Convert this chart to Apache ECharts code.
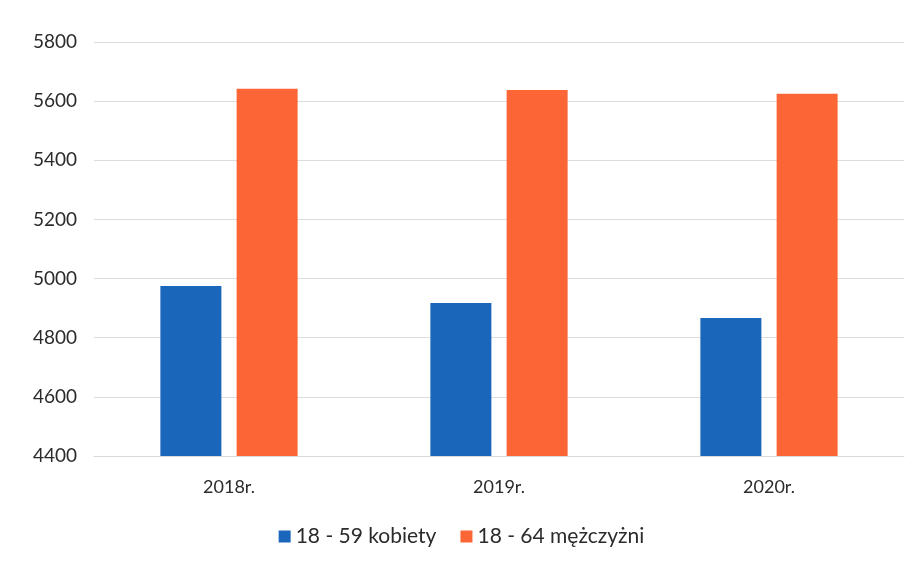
<!DOCTYPE html>
<html><head><meta charset="utf-8">
<script src="https://cdn.jsdelivr.net/npm/echarts@6/dist/echarts.min.js"></script>
<style>html,body{margin:0;padding:0;background:#fff}#c{width:923px;height:574px}</style>
</head><body><div id="c"></div>
<script>
const categories = ['2018r.', '2019r.', '2020r.'];
const seriesNames = ['18 - 59 kobiety', '18 - 64 mężczyżni'];
const kobiety = [4975, 4917, 4867];
const mezczyzni = [5642, 5638, 5625];
const yTicks = [4400, 4600, 4800, 5000, 5200, 5400, 5600, 5800];

const chart = echarts.init(document.getElementById('c'));
chart.setOption({
  animation: false,
  textStyle: { fontFamily: 'Lato, "Open Sans", sans-serif' },
  grid: { left: 94, right: 19, top: 42, bottom: 118 },
  legend: {
    bottom: 22, left: 'center', itemWidth: 12, itemHeight: 12, itemGap: 24,
    icon: 'rect',
    textStyle: { fontSize: 21, color: '#2b2b2b' },
    data: seriesNames
  },
  xAxis: {
    type: 'category', data: categories,
    axisLine: { lineStyle: { color: '#d9d9d9' } },
    axisTick: { show: false },
    axisLabel: { fontSize: 18, color: '#2b2b2b', margin: 22 }
  },
  yAxis: {
    type: 'value', min: yTicks[0], max: yTicks[yTicks.length - 1], interval: 200,
    axisLine: { show: false }, axisTick: { show: false },
    axisLabel: { fontSize: 19, color: '#2b2b2b', margin: 17, formatter: v => String(v) },
    splitLine: { lineStyle: { color: '#dcdcdc' } }
  },
  series: [
    { name: seriesNames[0], type: 'bar', data: kobiety, barWidth: 61, barGap: '25%',
      itemStyle: { color: '#1a66bb' } },
    { name: seriesNames[1], type: 'bar', data: mezczyzni, barWidth: 61,
      itemStyle: { color: '#fc6535' } }
  ]
});
</script></body></html>
